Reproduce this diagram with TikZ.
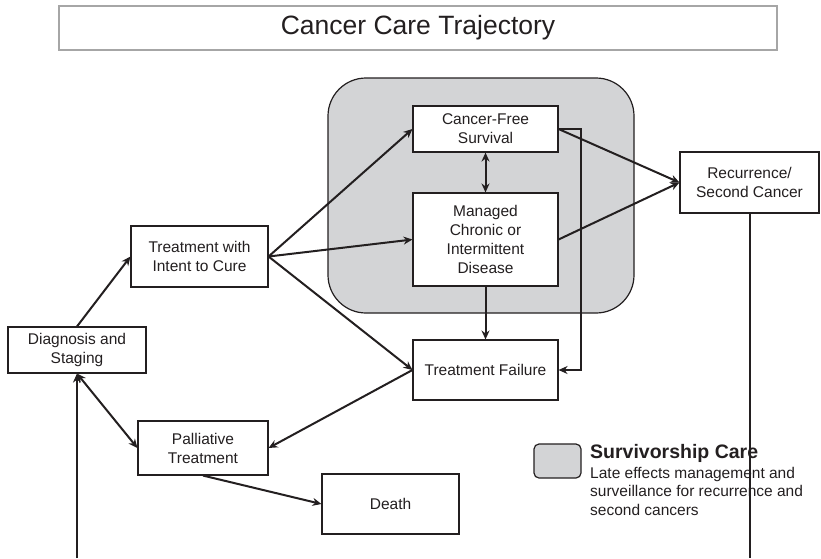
\documentclass[tikz,border=0pt]{standalone}
\usepackage{fontspec}
\setmainfont{Liberation Sans}
\usetikzlibrary{arrows.meta}
\definecolor{survgray}{RGB}{211,212,214}
\definecolor{ink}{RGB}{35,31,32}

\begin{document}
\begin{tikzpicture}[
    x=1pt, y=-1pt,
    box/.style = { draw=ink, line width=1.1pt, fill=white, align=center, inner sep=2pt,
                   text=ink, font=\fontsize{15.5}{19}\selectfont },
    arr/.style = { draw=ink, line width=2pt, -{Stealth[length=9pt,width=8pt]} },
    biarr/.style = { draw=ink, line width=2pt, {Stealth[length=9pt,width=8pt]}-{Stealth[length=9pt,width=8pt]} },
    ]
    \useasboundingbox (0,0) rectangle (821,558);

    % title
    \node[draw=gray!70, line width=1.4pt, minimum width=718, minimum height=44, text=ink,
          font=\fontsize{26.5}{30}\selectfont] (title) at (418,28) {Cancer Care Trajectory};

    % survivorship area
    \draw[draw=ink, line width=1.2pt, fill=survgray, rounded corners=38pt] (328,78) rectangle (634,313);

    \node[box, minimum width=138, minimum height=46] (diag) at (77,350) {Diagnosis and\\Staging};
    \node[box, minimum width=137, minimum height=61] (cure) at (199.5,256.5) {Treatment with\\Intent to Cure};
    \node[box, minimum width=130, minimum height=54] (pall) at (203,448) {Palliative\\Treatment};
    \node[box, minimum width=137, minimum height=60] (death) at (390.5,504) {Death};
    \node[box, minimum width=145, minimum height=46] (free) at (485.5,129) {Cancer-Free\\Survival};
    \node[box, minimum width=145, minimum height=93] (chronic) at (485.5,239.5) {Managed\\Chronic or\\Intermittent\\Disease};
    \node[box, minimum width=145, minimum height=60] (fail) at (485.5,370) {Treatment Failure};
    \node[box, minimum width=139, minimum height=61] (recur) at (749.5,182.5) {Recurrence/\\Second Cancer};

    \coordinate (loop) at (581,129);
    \coordinate (recurEnd) at (749.5,558);
    \coordinate (diagStart) at (77,558);

    \draw[arr] (diag.north) -- (cure.west);
    \draw[arr] (cure.east) -- (free.west);
    \draw[arr] (cure.east) -- (chronic.west);
    \draw[arr] (cure.east) -- (fail.west);
    \draw[arr] (fail.west) -- (pall.east);
    \draw[biarr] (diag.south) -- (pall.west);
    \draw[arr] (pall.south) -- (death.west);
    \draw[biarr] (free.south) -- (chronic.north);
    \draw[arr] (chronic.south) -- (fail.north);
    \draw[arr] (free.east) -- (loop) |- (fail.east);
    \draw[arr] (free.east) -- (recur.west);
    \draw[arr] (chronic.east) -- (recur.west);
    \draw[ink, line width=2pt] (recur.south) -- (recurEnd);
    \draw[arr] (diagStart) -- (diag.south);

    % legend
    \node[draw=ink, line width=1.2pt, fill=survgray, rounded corners=5pt,
          minimum width=47, minimum height=34] (key) at (557.5,461) {};
    \node[anchor=base west, inner sep=0, text=ink, font=\bfseries\fontsize{19.5}{22}\selectfont]
          (keytitle) at (590,458) {Survivorship Care};
    \node[anchor=north west, align=left, inner sep=0, text=ink, font=\fontsize{15.5}{18.5}\selectfont]
          (keytext) at (590,467) {Late effects management and\\surveillance for recurrence and\\second cancers};

\end{tikzpicture}
\end{document}
